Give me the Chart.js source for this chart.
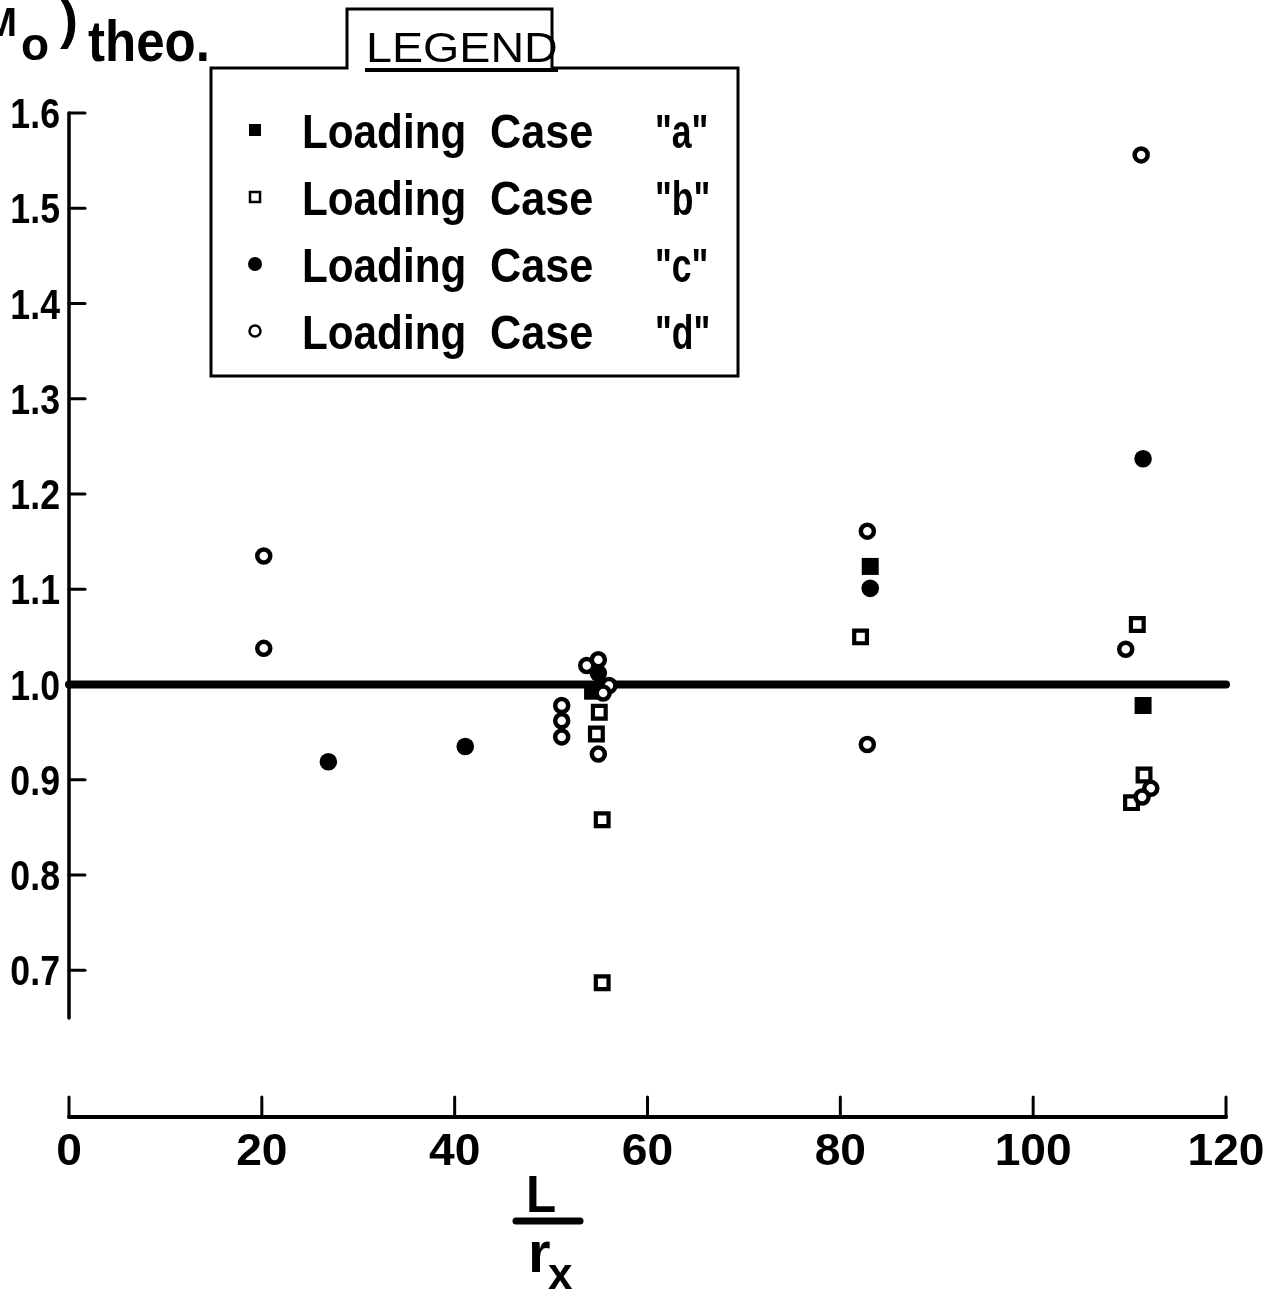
<!DOCTYPE html>
<html>
<head>
<meta charset="utf-8">
<script src="https://cdn.jsdelivr.net/npm/chart.js@4.4.1/dist/chart.umd.min.js"></script>
<style>
html, body { margin: 0; padding: 0; background: #fff; overflow: hidden; }
canvas { display: block; }
</style>
</head>
<body>
<canvas id="myChart" width="1272" height="1291"></canvas>
<script>
// values (x = L/rx, y = ratio)
const caseA = [{x: 54.3, y: 0.993}, {x: 83.1, y: 1.124}, {x: 111.4, y: 0.978}];
const caseB = [{x: 55.0, y: 0.971}, {x: 54.7, y: 0.948}, {x: 55.3, y: 0.858}, {x: 55.3, y: 0.687},
               {x: 82.1, y: 1.050}, {x: 110.8, y: 1.063}, {x: 111.5, y: 0.905}, {x: 110.2, y: 0.876}];
const caseC = [{x: 26.9, y: 0.919}, {x: 41.1, y: 0.935}, {x: 54.9, y: 1.012}, {x: 83.1, y: 1.101}, {x: 111.4, y: 1.237}];
const caseD = [{x: 20.2, y: 1.135}, {x: 20.2, y: 1.038}, {x: 53.7, y: 1.020}, {x: 54.9, y: 1.026},
               {x: 51.1, y: 0.978}, {x: 51.1, y: 0.962}, {x: 51.1, y: 0.945}, {x: 54.9, y: 0.927},
               {x: 56.0, y: 0.999}, {x: 55.4, y: 0.991}, {x: 82.8, y: 1.161}, {x: 82.8, y: 0.937},
               {x: 109.6, y: 1.037}, {x: 111.2, y: 1.556}, {x: 112.2, y: 0.891}, {x: 111.3, y: 0.882}];
const unityLine = [{x: 0, y: 1.0}, {x: 120, y: 1.0}];

const xTicks = [0, 20, 40, 60, 80, 100, 120];
const xTickLabels = ['0', '20', '40', '60', '80', '100', '120'];
const yTicks = [0.7, 0.8, 0.9, 1.0, 1.1, 1.2, 1.3, 1.4, 1.5, 1.6];
const yTickLabels = ['0.7', '0.8', '0.9', '1.0', '1.1', '1.2', '1.3', '1.4', '1.5', '1.6'];
const legendLetters = ['a', 'b', 'c', 'd'];

const X_MIN = 0, X_MAX = 120;
const Y_MIN = 0.546, Y_MAX = 1.6;
const Y_AXIS_END = 0.65; // the drawn y axis stops short of the x axis
const FONT = '"Liberation Sans", Arial, sans-serif';

function drawText(ctx, str, x, y, size, sx, align, weight){ // text squeezed/stretched horizontally
    ctx.save();
    ctx.font = (weight || 'bold') + ' ' + size + 'px ' + FONT;
    let w = ctx.measureText(str).width * sx;
    let left = x;
    if(align === 'right') left = x - w;
    if(align === 'center') left = x - w / 2;
    ctx.translate(left, y);
    ctx.scale(sx, 1);
    ctx.textAlign = 'left';
    ctx.textBaseline = 'alphabetic';
    ctx.fillStyle = '#000';
    ctx.fillText(str, 0, 0);
    ctx.restore();
}

function line(ctx, x1, y1, x2, y2, w){
    ctx.beginPath();
    ctx.lineWidth = w;
    ctx.moveTo(x1, y1);
    ctx.lineTo(x2, y2);
    ctx.stroke();
}

const axesPlugin = {
    id: 'handAxes',
    beforeDatasetsDraw(chart){
        const ctx = chart.ctx;
        const xs = chart.scales.x, ys = chart.scales.y;
        ctx.save();
        ctx.strokeStyle = '#000';
        ctx.lineCap = 'round';

        // y axis with inward ticks
        let x0 = xs.getPixelForValue(X_MIN);
        line(ctx, x0, ys.getPixelForValue(Y_MAX), x0, ys.getPixelForValue(Y_AXIS_END), 3.5);
        for(let i=0;i<yTicks.length;i++){
            let py = ys.getPixelForValue(yTicks[i]);
            line(ctx, x0, py, x0 + 16, py, 3);
            drawText(ctx, yTickLabels[i], x0 - 9, py + 15, 42, 0.85, 'right');
        }

        // x axis, drawn on its own below the y axis
        let yb = ys.getPixelForValue(Y_MIN);
        line(ctx, xs.getPixelForValue(X_MIN), yb, xs.getPixelForValue(X_MAX), yb, 4);
        for(let i=0;i<xTicks.length;i++){
            let px = xs.getPixelForValue(xTicks[i]);
            line(ctx, px, yb, px, yb - 20, 3);
            drawText(ctx, xTickLabels[i], px, yb + 48, 44, 1.05, 'center');
        }
        ctx.restore();
    },
    afterDraw(chart){
        const ctx = chart.ctx;
        ctx.save();
        ctx.strokeStyle = '#000';
        ctx.fillStyle = '#000';

        // y title, cut at the left edge like the scan
        drawText(ctx, '(M/M', 17, 36, 40, 1.0, 'right');
        drawText(ctx, 'o', 21, 60, 46, 1.0, 'left');
        drawText(ctx, ')', 60, 38, 54, 1.0, 'left');
        drawText(ctx, 'theo.', 88, 61, 58, 0.88, 'left');

        // x title L / rx
        drawText(ctx, 'L', 526, 1212, 52, 0.95, 'left');
        ctx.lineCap = 'round';
        line(ctx, 516, 1221, 580, 1221, 7);
        drawText(ctx, 'r', 528, 1272, 58, 1.0, 'left');
        drawText(ctx, 'x', 548, 1289, 44, 1.0, 'left');

        // legend box with tab
        ctx.lineWidth = 3;
        ctx.lineCap = 'butt';
        ctx.beginPath();
        ctx.moveTo(347, 68);
        ctx.lineTo(347, 9);
        ctx.lineTo(552, 9);
        ctx.lineTo(552, 68);
        ctx.lineTo(738, 68);
        ctx.lineTo(738, 376);
        ctx.lineTo(211, 376);
        ctx.lineTo(211, 68);
        ctx.closePath();
        ctx.stroke();
        drawText(ctx, 'LEGEND', 366, 62, 42, 1.11, 'left', 'normal');
        line(ctx, 365, 70, 558, 70, 4);

        const rows = [130, 197, 264, 331];
        for(let i=0;i<legendLetters.length;i++){
            let cy = rows[i];
            ctx.lineWidth = 2.5;
            if(i === 0){ ctx.fillRect(249, cy - 6, 12, 12); }
            if(i === 1){ ctx.strokeRect(250, cy - 5, 10, 10); }
            if(i === 2){ ctx.beginPath(); ctx.arc(255, cy, 7, 0, Math.PI * 2); ctx.fill(); }
            if(i === 3){ ctx.beginPath(); ctx.arc(255, cy, 5.5, 0, Math.PI * 2); ctx.stroke(); }
            drawText(ctx, 'Loading', 302, cy + 18, 48, 0.88, 'left');
            drawText(ctx, 'Case', 490, cy + 18, 48, 0.9, 'left');
            drawText(ctx, '"' + legendLetters[i] + '"', 655, cy + 18, 48, 0.74, 'left');
        }
        ctx.restore();
    }
};

const CTX = document.getElementById('myChart').getContext('2d');
const myChart = new Chart(CTX, {
    type: 'scatter',
    data: {
        datasets: [
            {label: 'Loading Case "a"', data: caseA, pointStyle: 'rect', pointRadius: 12,
             backgroundColor: '#000', borderColor: '#000', borderWidth: 0, order: 1},
            {label: 'Loading Case "b"', data: caseB, pointStyle: 'rect', pointRadius: 9,
             backgroundColor: '#fff', borderColor: '#000', borderWidth: 4.2, order: 2},
            {label: 'Loading Case "c"', data: caseC, pointStyle: 'circle', pointRadius: 8.8,
             backgroundColor: '#000', borderColor: '#000', borderWidth: 0, order: 3},
            {label: 'Loading Case "d"', data: caseD, pointStyle: 'circle', pointRadius: 6.5,
             backgroundColor: '#fff', borderColor: '#000', borderWidth: 4.5, order: 0},
            {label: 'unity', data: unityLine, showLine: true, pointRadius: 0, borderColor: '#000',
             borderWidth: 8, borderCapStyle: 'round', order: 10}
        ]
    },
    options: {
        responsive: false,
        animation: false,
        devicePixelRatio: 1,
        events: [],
        clip: false,
        layout: {autoPadding: false, padding: {left: 69, right: 46, top: 113, bottom: 174}},
        scales: {
            x: {type: 'linear', min: X_MIN, max: X_MAX, display: false},
            y: {type: 'linear', min: Y_MIN, max: Y_MAX, display: false}
        },
        plugins: {legend: {display: false}, tooltip: {enabled: false}}
    },
    plugins: [axesPlugin]
});
</script>
</body>
</html>
